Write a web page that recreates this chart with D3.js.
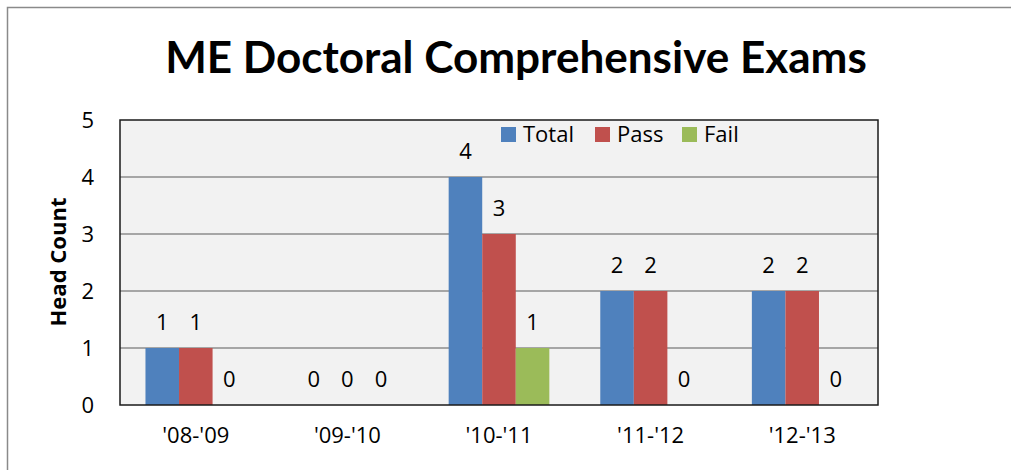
<!DOCTYPE html>
<html>
<head>
<meta charset="utf-8">
<script src="https://cdn.jsdelivr.net/npm/d3@7"></script>
<style>
  body { margin: 0; background: #fff; }
  text { font-family: "Open Sans", Lato, sans-serif; fill: #000; }
</style>
</head>
<body>
<div id="chart"></div>
<script>
// chart data
var years = ["'08-'09", "'09-'10", "'10-'11", "'11-'12", "'12-'13"];
var totals = [1, 0, 4, 2, 2];
var passes = [1, 0, 3, 2, 2];
var fails = [0, 0, 1, 0, 0];
var seriesNames = ["Total", "Pass", "Fail"];
var seriesColors = ["#4F81BD", "#C0504D", "#9BBB59"];
var yTicks = [0, 1, 2, 3, 4, 5];

var svgWidth = 1011;
var svgHeight = 470;
var labelSize = "22px";

var margin = { top: 120, right: 133, bottom: 65, left: 120 };
var width = svgWidth - margin.left - margin.right;
var height = svgHeight - margin.top - margin.bottom;

var svg = d3.select("#chart")
  .append("svg")
  .attr("width", svgWidth)
  .attr("height", svgHeight);

// shrink/grow a text node so it spans the given width
function fitWidth(sel, target) {
  var size = parseFloat(sel.style("font-size"));
  var w = sel.node().getComputedTextLength();
  sel.style("font-size", (size * target / w) + "px");
}

// outer chart frame (only left and top visible)
svg.append("path")
  .attr("d", "M7.5,470 V7.5 H1011")
  .attr("fill", "none")
  .attr("stroke", "#8a8a8a")
  .attr("stroke-width", 1.5);

// title
var title = svg.append("text")
  .attr("x", 516)
  .attr("y", 73)
  .attr("text-anchor", "middle")
  .style("font-family", "Lato, sans-serif")
  .style("font-weight", "bold")
  .style("font-size", "40px")
  .text("ME Doctoral Comprehensive Exams");
fitWidth(title, 702);

var chartGroup = svg.append("g")
  .attr("transform", `translate(${margin.left}, ${margin.top})`);

var x0 = d3.scaleBand()
  .domain(years)
  .range([0, width]);

var x1 = d3.scaleBand()
  .domain(seriesNames)
  .range([x0.bandwidth() * 0.168, x0.bandwidth() * 0.832]);

var y = d3.scaleLinear()
  .domain([0, 5])
  .range([height, 0]);

// plot background
chartGroup.append("rect")
  .attr("width", width)
  .attr("height", height)
  .attr("fill", "#f2f2f2");

// gridlines
chartGroup.append("g")
  .selectAll("line")
  .data(yTicks.slice(1, -1))
  .enter()
  .append("line")
  .attr("x1", 0)
  .attr("x2", width)
  .attr("y1", d => y(d))
  .attr("y2", d => y(d))
  .attr("stroke", "#8c8c8c")
  .attr("stroke-width", 1.5);

// bars + value labels
var seriesData = [totals, passes, fails];
var groups = chartGroup.selectAll(".year")
  .data(years)
  .enter()
  .append("g")
  .attr("transform", d => `translate(${x0(d)}, 0)`);

groups.each(function(year, i) {
  var g = d3.select(this);
  seriesNames.forEach(function(name, s) {
    var v = seriesData[s][i];
    g.append("rect")
      .attr("x", x1(name))
      .attr("width", x1.bandwidth())
      .attr("y", y(v))
      .attr("height", height - y(v))
      .attr("fill", seriesColors[s]);
    g.append("text")
      .attr("x", x1(name) + x1.bandwidth() / 2)
      .attr("y", y(v) - 18)
      .attr("text-anchor", "middle")
      .style("font-size", labelSize)
      .text(v);
  });
});

// plot border
chartGroup.append("rect")
  .attr("width", width)
  .attr("height", height)
  .attr("fill", "none")
  .attr("stroke", "#1a1a1a")
  .attr("stroke-width", 1.5);

// y axis
var leftAxis = d3.axisLeft(y).tickValues(yTicks).tickFormat(d3.format("d")).tickSize(0).tickPadding(26);
chartGroup.append("g")
  .call(leftAxis)
  .call(g => g.select(".domain").remove())
  .selectAll("text")
  .attr("font-family", null)
  .style("font-size", labelSize);

// x axis
var bottomAxis = d3.axisBottom(x0).tickSize(0).tickPadding(22);
chartGroup.append("g")
  .attr("transform", `translate(0, ${height})`)
  .call(bottomAxis)
  .call(g => g.select(".domain").remove())
  .selectAll("text")
  .attr("font-family", null)
  .style("font-size", labelSize);

// y axis title
var yTitle = svg.append("text")
  .attr("transform", "rotate(-90)")
  .attr("x", -262)
  .attr("y", 66)
  .attr("text-anchor", "middle")
  .style("font-weight", "bold")
  .style("font-size", "20px")
  .text("Head Count");
fitWidth(yTitle, 129);

// legend
var legendX = [501, 595, 682];
var legend = svg.append("g");
seriesNames.forEach(function(name, s) {
  legend.append("rect")
    .attr("x", legendX[s])
    .attr("y", 127)
    .attr("width", 15)
    .attr("height", 15)
    .attr("fill", seriesColors[s]);
  legend.append("text")
    .attr("x", legendX[s] + 22)
    .attr("y", 142)
    .style("font-size", labelSize)
    .text(name);
});
</script>
</body>
</html>
